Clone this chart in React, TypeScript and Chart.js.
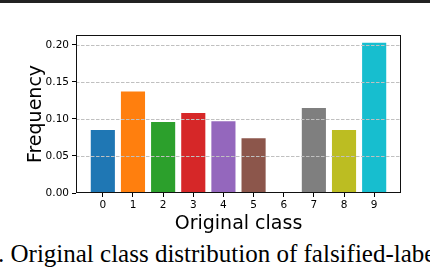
import React, { useEffect, useRef } from "react";
import { Chart, registerables } from "chart.js";

Chart.register(...registerables);

const categories = [0, 1, 2, 3, 4, 5, 6, 7, 8, 9];
const frequencies = [0.085, 0.137, 0.096, 0.108, 0.097, 0.074, 0.0, 0.115, 0.085, 0.203];
const barColors = [
  "#1f77b4", "#ff7f0e", "#2ca02c", "#d62728", "#9467bd",
  "#8c564b", "#e377c2", "#7f7f7f", "#bcbd22", "#17becf",
];
const yTickValues = [0.0, 0.05, 0.1, 0.15, 0.2];
const gridValues = [0.05, 0.1, 0.15, 0.2];
const xTitle = "Original class";
const yTitle = "Frequency";
const caption = ". Original class distribution of falsified-labe";

const FONT = "'DejaVu Sans', sans-serif";

const overlayPlugin = {
  id: "overlay",
  afterDatasetsDraw(chart: any) {
    const { ctx, chartArea, scales } = chart;
    const y = scales.y;
    ctx.save();
    ctx.strokeStyle = "#c0c0c0";
    ctx.lineWidth = 1;
    ctx.setLineDash([3.5, 1.5]);
    for (const v of gridValues) {
      const py = Math.round(y.getPixelForValue(v)) + 0.5;
      ctx.beginPath();
      ctx.moveTo(chartArea.left, py);
      ctx.lineTo(chartArea.right, py);
      ctx.stroke();
    }
    ctx.setLineDash([]);
    ctx.strokeStyle = "#111";
    ctx.lineWidth = 1;
    const l = Math.round(chartArea.left) + 0.5;
    const t = Math.round(chartArea.top) + 0.5;
    const r = Math.round(chartArea.right) - 0.5;
    const b = Math.round(chartArea.bottom) - 0.5;
    ctx.strokeRect(l, t, r - l, b - t);
    ctx.restore();
  },
};

export default function App() {
  const ref = useRef<HTMLCanvasElement | null>(null);
  useEffect(() => {
    if (!ref.current) return;
    const chart = new Chart(ref.current, {
      type: "bar",
      data: {
        datasets: [
          {
            data: categories.map((c, i) => ({ x: c, y: frequencies[i] })),
            backgroundColor: barColors,
            borderWidth: 0,
            barPercentage: 0.8,
            categoryPercentage: 1.0,
          },
        ],
      },
      options: {
        animation: false,
        responsive: false,
        maintainAspectRatio: false,
        layout: { padding: { top: 35, right: 29, left: 0, bottom: 0 } },
        plugins: { legend: { display: false }, tooltip: { enabled: false } },
        scales: {
          x: {
            type: "linear",
            min: -0.89,
            max: 9.89,
            offset: false,
            afterBuildTicks: (axis: any) => {
              axis.ticks = categories.map((v) => ({ value: v }));
            },
            afterFit: (axis: any) => {
              axis.height = 42;
            },
            grid: {
              offset: false,
              drawOnChartArea: false,
              drawTicks: true,
              tickLength: 4,
              tickColor: "#000",
              tickWidth: 1,
            },
            border: { display: false },
            ticks: {
              autoSkip: false,
              maxRotation: 0,
              padding: 2,
              color: "#000",
              font: { family: FONT, size: 10.5 },
              callback: (v: any) => String(v),
            },
            title: {
              display: true,
              text: xTitle,
              color: "#000",
              font: { family: FONT, size: 19 },
              padding: { top: 0, bottom: 0 },
            },
          },
          y: {
            type: "linear",
            min: 0,
            max: 0.2135,
            afterBuildTicks: (axis: any) => {
              axis.ticks = yTickValues.map((v) => ({ value: v }));
            },
            afterFit: (axis: any) => {
              axis.width = 76;
            },
            grid: {
              drawOnChartArea: false,
              drawTicks: true,
              tickLength: 4,
              tickColor: "#000",
              tickWidth: 1,
            },
            border: { display: false },
            ticks: {
              padding: 3,
              color: "#000",
              font: { family: FONT, size: 10.5 },
              callback: (v: any) => Number(v).toFixed(2),
            },
            title: {
              display: true,
              text: yTitle,
              color: "#000",
              font: { family: FONT, size: 19 },
              padding: { top: 25, bottom: 0 },
            },
          },
        },
      },
      plugins: [overlayPlugin],
    });
    return () => chart.destroy();
  }, []);

  return (
    <div
      style={{
        position: "absolute",
        left: 0,
        top: 0,
        width: 430,
        height: 268,
        overflow: "hidden",
        background: "#fff",
      }}
    >
      <div
        style={{
          position: "absolute",
          left: 0,
          top: 0,
          width: 430,
          height: 3,
          background: "#222",
        }}
      />
      <canvas
        ref={ref}
        width={430}
        height={235}
        style={{ position: "absolute", left: 0, top: 0, width: 430, height: 235 }}
      />
      <div
        style={{
          position: "absolute",
          left: -2,
          top: 241,
          whiteSpace: "nowrap",
          fontFamily: "'Liberation Serif', 'Times New Roman', serif",
          fontSize: 25,
          lineHeight: "25px",
          color: "#000",
        }}
      >
        {caption}
      </div>
    </div>
  );
}
